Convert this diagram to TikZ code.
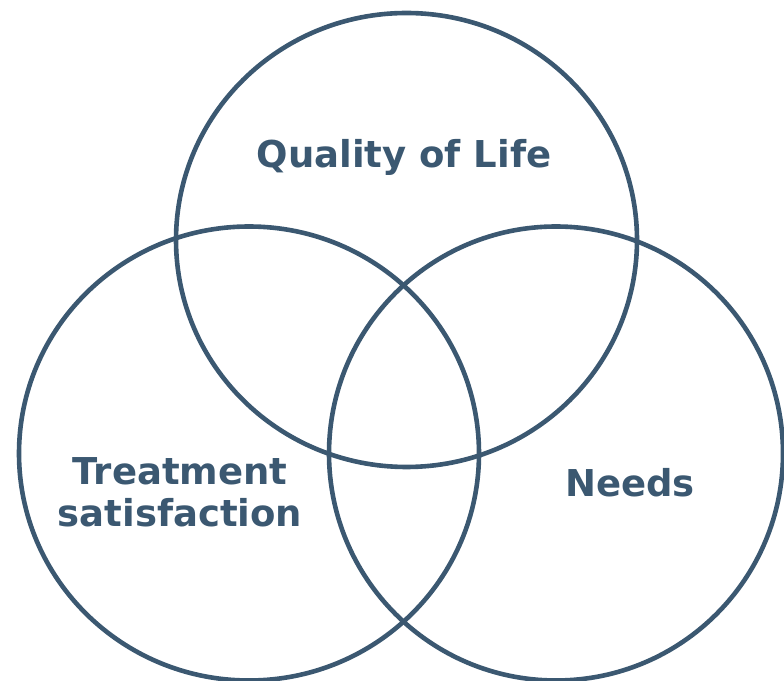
\documentclass[tikz,border=0pt]{standalone}
\usepackage{fontspec}
\setmainfont{DejaVu Sans}
\definecolor{slate}{RGB}{59,88,113}
\begin{document}
\begin{tikzpicture}[x=1pt,y=1pt,
  ring/.style={draw=slate,line width=4.6pt},
  lbl/.style={text=slate,font=\fontsize{37}{42}\selectfont\bfseries,inner sep=0pt,align=center}]
\useasboundingbox (0,0) rectangle (784,680);
\clip (0,0) rectangle (784,680);
\draw[ring] (406.5,440) ellipse [x radius=230.5,y radius=227] coordinate (qol);
\draw[ring] (249,226.5) ellipse [x radius=230,y radius=227] coordinate (ts);
\draw[ring] (556,226.5) ellipse [x radius=227,y radius=227] coordinate (nd);
\node[lbl,anchor=base] (tq) at (404,512) {Quality of Life};
\node[lbl] (tt) at (180,188) {Treatment\\satisfaction};
\node[lbl,anchor=base] (tn) at (630,183) {Needs};
\end{tikzpicture}
\end{document}
